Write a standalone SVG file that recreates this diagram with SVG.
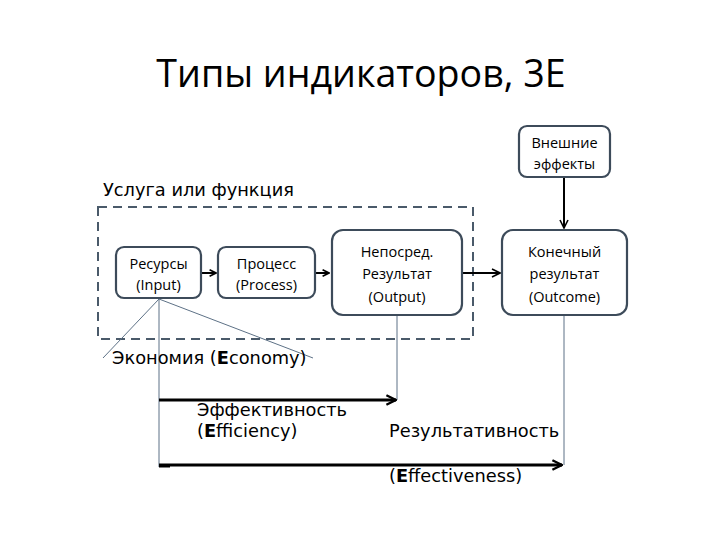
<svg xmlns="http://www.w3.org/2000/svg" width="720" height="540" viewBox="0 0 720 540">
<style>
.box{fill:#fff;stroke:#3d4b5a;stroke-width:2.2}
.bt{font-family:"Open Sans","Liberation Sans",sans-serif;font-size:14.5px;fill:#000;text-anchor:middle}
.lt{font-family:"DejaVu Sans",sans-serif;font-size:17.8px;fill:#000}
.thin{stroke:#5d7186;stroke-width:1;fill:none}
.thick{stroke:#000;stroke-width:3;fill:none}
.arr{stroke:#000;stroke-width:2;fill:none}
</style>
<defs>
<marker id="ah" viewBox="0 0 10 10" refX="9" refY="5" markerWidth="4" markerHeight="4" orient="auto" markerUnits="strokeWidth">
<path d="M1,1 L9,5 L1,9" fill="none" stroke="#000" stroke-width="2"/>
</marker>
<marker id="ah2" viewBox="0 0 10 10" refX="9" refY="5" markerWidth="5" markerHeight="5" orient="auto" markerUnits="strokeWidth">
<path d="M1,1 L9,5 L1,9" fill="none" stroke="#000" stroke-width="1.6"/>
</marker>
</defs>
<rect width="720" height="540" fill="#fff"/>
<text x="361" y="87" text-anchor="middle" font-family="Open Sans, Liberation Sans, sans-serif" font-size="37.6" fill="#000">Типы индикаторов, 3E</text>
<g id="service">
<rect x="98" y="207" width="375" height="132" fill="none" stroke="#4a5a6a" stroke-width="2" stroke-dasharray="9,6"/>
<text class="lt" x="103" y="196">Услуга или функция</text>
</g>
<g id="connectors">
<line class="arr" x1="202" y1="273" x2="216" y2="273" marker-end="url(#ah)"/>
<line class="arr" x1="316" y1="273" x2="329" y2="273" marker-end="url(#ah)"/>
<line class="arr" x1="463" y1="273" x2="500" y2="273" marker-end="url(#ah2)"/>
<line class="arr" x1="564" y1="178" x2="564" y2="228" marker-end="url(#ah2)"/>
<line class="thin" x1="159" y1="299" x2="103" y2="358"/>
<line class="thin" x1="159" y1="299" x2="313" y2="358"/>
<line class="thin" x1="159" y1="299" x2="159" y2="467"/>
<line class="thin" x1="397" y1="316" x2="397" y2="400"/>
<line class="thin" x1="564" y1="316" x2="564" y2="465"/>
<line class="thick" x1="159" y1="400" x2="396" y2="400" marker-end="url(#ah)"/>
<line class="thick" x1="159" y1="465" x2="562" y2="465" marker-end="url(#ah)"/>
<line stroke="#000" stroke-width="3" x1="159" y1="466" x2="170" y2="466"/>
</g>
<g id="input">
<rect class="box" x="116" y="247" width="85" height="51" rx="8"/>
<text class="bt" x="158.5" y="269">Ресурсы</text>
<text class="bt" x="158.5" y="290">(Input)</text>
</g>
<g id="process">
<rect class="box" x="218" y="247" width="97" height="51" rx="8"/>
<text class="bt" x="266.5" y="269">Процесс</text>
<text class="bt" x="266.5" y="290">(Process)</text>
</g>
<g id="output">
<rect class="box" x="332" y="230" width="130" height="85" rx="11"/>
<text class="bt" x="397" y="257">Непосред.</text>
<text class="bt" x="397" y="279">Результат</text>
<text class="bt" x="397" y="302">(Output)</text>
</g>
<g id="outcome">
<rect class="box" x="502" y="230" width="125" height="85" rx="11"/>
<text class="bt" x="564.5" y="257">Конечный</text>
<text class="bt" x="564.5" y="279">результат</text>
<text class="bt" x="564.5" y="302">(Outcome)</text>
</g>
<g id="external">
<rect class="box" x="519" y="126" width="91" height="51" rx="8"/>
<text class="bt" x="564.5" y="148">Внешние</text>
<text class="bt" x="564.5" y="169">эффекты</text>
</g>
<g id="labels">
<text class="lt" x="112" y="364">Экономия (<tspan font-weight="bold">E</tspan>conomy)</text>
<text class="lt" x="197" y="416">Эффективность</text>
<text class="lt" x="197" y="437">(<tspan font-weight="bold">E</tspan>fficiency)</text>
<text class="lt" x="389" y="437">Результативность</text>
<text class="lt" x="389" y="482">(<tspan font-weight="bold">E</tspan>ffectiveness)</text>
</g>
</svg>
